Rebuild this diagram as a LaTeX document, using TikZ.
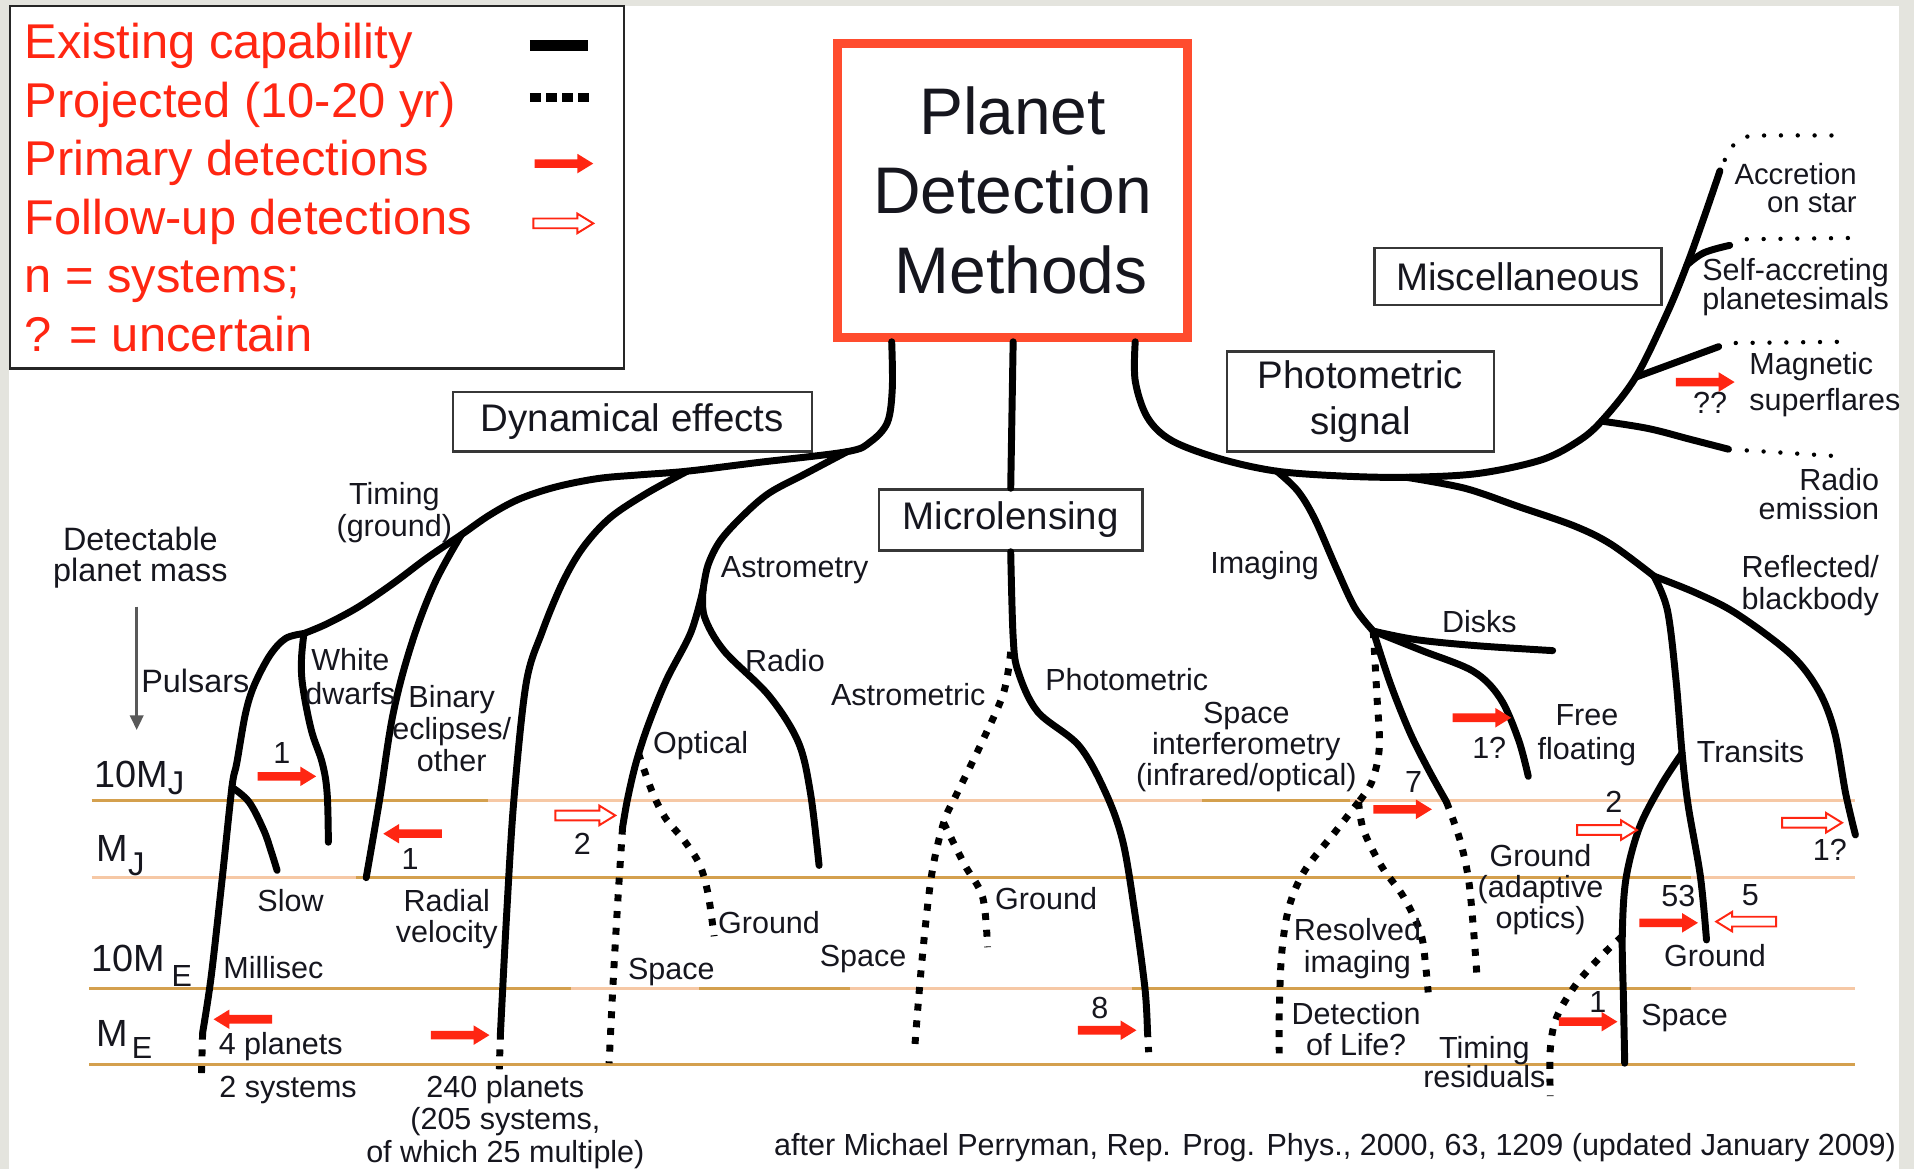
\documentclass[tikz,border=0pt]{standalone}
\usepackage{fontspec}
\setmainfont{Liberation Sans}
\usetikzlibrary{arrows.meta}
\definecolor{lvl}{RGB}{212,160,78}
\definecolor{peach}{RGB}{246,200,165}
\definecolor{legred}{RGB}{255,38,18}
\definecolor{boxred}{RGB}{255,76,46}
\definecolor{framegray}{RGB}{228,228,222}
\definecolor{boxgray}{RGB}{55,55,55}
\definecolor{txt}{RGB}{22,22,30}
\newcommand\FS[2]{\fontsize{#1}{#2}\selectfont}
\tikzset{
  tree/.style={line width=5.7pt,line cap=round,line join=round},
  proj/.style={line width=5.7pt,line cap=butt,dash pattern=on 5.7pt off 8pt},
  projthin/.style={line width=3.6pt,line cap=round,dash pattern=on 0pt off 13.8pt},
  lvline/.style={line width=2.3pt,draw=lvl},
  pkline/.style={line width=2.3pt,draw=peach},
  gbox/.style={draw=boxgray,line width=2pt,inner sep=0pt,fill=white,text=txt,font=\FS{31.5}{37}},
  lab/.style={font=\FS{25}{26},text=txt,inner sep=0pt,align=center},
  leg/.style={font=\FS{40}{48},text=legred,inner sep=0pt,anchor=base west},
  mass/.style={font=\FS{31}{31},text=txt,inner sep=0pt,anchor=base west},
  prim/.pic={\fill[legred] (0,-3.5) -- (35,-3.5) -- (35,-8) -- (48,0) -- (35,8) -- (35,3.5) -- (0,3.5) -- cycle;},
  follow/.pic={\draw[legred,line width=1.6pt,fill=white,line join=miter] (0,-4) -- (36,-4) -- (36,-8) -- (49,0) -- (36,8) -- (36,4) -- (0,4) -- cycle;},
}
\begin{document}
\begin{tikzpicture}[x=1pt,y=-1pt]
% background
\fill[framegray] (0,0) rectangle (1568,958);
\fill[white] (7,5) rectangle (1556,958);
\useasboundingbox (0,0) rectangle (1568,958);

% mass level lines
\draw[lvline] (75,656) -- (400,656);
\draw[pkline] (400,656) -- (985,656);
\draw[lvline] (985,656) -- (1106,656);
\draw[pkline] (1106,656) -- (1520,656);
\draw[pkline] (75,719) -- (292,719);
\draw[lvline] (292,719) -- (1385,719);
\draw[pkline] (1385,719) -- (1520,719);
\draw[lvline] (73,810) -- (468,810);
\draw[pkline] (468,810) -- (573,810);
\draw[lvline] (573,810) -- (696,810);
\draw[pkline] (696,810) -- (927,810);
\draw[lvline] (927,810) -- (1385,810);
\draw[pkline] (1385,810) -- (1520,810);
\draw[lvline] (73,872) -- (1520,872);

% legend
\node[draw=black!85,line width=2pt,minimum width=503pt,minimum height=297pt,inner sep=0pt] (legend) at (259.5,153.5) {};
\node[leg] (leg1) at (20,48) {Existing capability};
\node[leg] (leg2) at (20,96) {Projected (10-20 yr)};
\node[leg] (leg3) at (20,144) {Primary detections};
\node[leg] (leg4) at (20,192) {Follow-up detections};
\node[leg] (leg5) at (20,240) {n = systems;};
\node[leg] (leg6) at (20,288) {? = uncertain};
\coordinate (ls1) at (434,37); \coordinate (le1) at (482,37);
\coordinate (ls2) at (434,80); \coordinate (le2) at (484,80);
\draw[line width=9pt] (ls1) -- (le1);
\draw[line width=7pt,dash pattern=on 9pt off 4.3pt] (ls2) -- (le2);
\pic at (438,134) {prim};
\pic at (437,183) {follow};

% main boxes
\node[draw=boxred,line width=7pt,minimum width=287pt,minimum height=241pt,inner sep=0pt,
      font=\FS{54}{65},text=txt,align=center] (pdm) at (829.5,156) {Planet\\Detection\\\hspace*{14pt}Methods};
\node[gbox,minimum width=294pt,minimum height=49pt] (dyn) at (518,345.5) {Dynamical effects};
\node[gbox,minimum width=216pt,minimum height=50pt] (micro) at (828,426) {Microlensing};
\node[gbox,minimum width=219pt,minimum height=82pt,align=center] (phot) at (1114.5,329) {Photometric\\signal};
\node[gbox,minimum width=235pt,minimum height=47pt] (misc) at (1243.5,226.5) {Miscellaneous};

% ---------- coordinates ----------
\coordinate (tL) at (730.5,280);
\coordinate (tM) at (830,280);
\coordinate (tR) at (930,280);
\coordinate (dynJ) at (694,370);
\coordinate (rvJ) at (563,386);
\coordinate (timJ) at (378,438);
\coordinate (pulJ) at (249,519);
\coordinate (slowJ) at (190,645);
\coordinate (pulS) at (166,846);
\coordinate (pulE) at (165,881);
\coordinate (slowE) at (227,713);
\coordinate (wdE) at (269,690);
\coordinate (binE) at (300,719);
\coordinate (rvS) at (410,846);
\coordinate (rvE) at (409,876);
\coordinate (astJ) at (576,483);
\coordinate (optS) at (510,678);
\coordinate (optE) at (499,871);
\coordinate (grS) at (523,617);
\coordinate (grE) at (585,767);
\coordinate (radE) at (671,709);
\coordinate (mlS) at (940,844);
\coordinate (mlE) at (941,862);
\coordinate (amS) at (828,534);
\coordinate (amJ) at (773,674);
\coordinate (amE) at (749,863);
\coordinate (amG) at (809,776);
\coordinate (imgJ) at (1046,386);
\coordinate (trJ) at (1152,391);
\coordinate (radJ) at (1312,345);
\coordinate (magJ) at (1340,309);
\coordinate (selfJ) at (1382,217);
\coordinate (accS) at (1409,140);
\coordinate (accD) at (1413,131);
\coordinate (accE) at (1510,111);
\coordinate (selfS) at (1417,201);
\coordinate (selfD) at (1431,196);
\coordinate (selfE) at (1514,195);
\coordinate (magS) at (1408,284);
\coordinate (magD) at (1422,281);
\coordinate (magE) at (1510,280);
\coordinate (radS) at (1416,368);
\coordinate (radD) at (1431,369);
\coordinate (radEE) at (1510,374);
\coordinate (diskJ) at (1125,517);
\coordinate (diskE) at (1272,533);
\coordinate (ffE) at (1252,636);
\coordinate (imgS) at (1185,657);
\coordinate (aoE) at (1210,800);
\coordinate (riJ) at (1113,657);
\coordinate (riL) at (1048,863);
\coordinate (riR) at (1170,813);
\coordinate (refJ) at (1355,472);
\coordinate (refE) at (1520,684);
\coordinate (trsJ) at (1378,617);
\coordinate (grdE) at (1398,770);
\coordinate (tmJ) at (1329,767);
\coordinate (spE) at (1331,871);
\coordinate (trE) at (1270,898);

% ---------- left tree: dynamical effects ----------
\draw[tree] plot[smooth,tension=0.55] coordinates {(tL) (731,318) (727,346) (713,362) (dynJ) (620,379) (rvJ) (524,389) (490,392) (455,399) (425,409) (401,422) (timJ) (350,457) (322,478) (294,497) (268,511) (pulJ)};
\draw[tree] plot[smooth,tension=0.55] coordinates {(pulJ) (234,523) (221,537) (208,562) (201,585) (194,625) (slowJ) (182,720) (173,800) (pulS)};
\draw[proj] (pulS) -- (pulE);
\draw[tree] plot[smooth,tension=0.6] coordinates {(slowJ) (204,657) (216,680) (222,697) (slowE)};
\draw[tree] plot[smooth,tension=0.6] coordinates {(pulJ) (247,540) (248,562) (255,598) (264,625) (268,650) (wdE)};
\draw[tree] plot[smooth,tension=0.6] coordinates {(timJ) (356,478) (337,528) (322,585) (311,655) (binE)};
\draw[tree] plot[smooth,tension=0.55] coordinates {(rvJ) (530,404) (500,424) (478,448) (461,477) (444,518) (431,560) (421,655) (415,750) (rvS)};
\draw[proj] (rvS) -- (rvE);
\draw[tree] plot[smooth,tension=0.55] coordinates {(dynJ) (660,388) (630,404) (608,423) (590,443) (580,463) (astJ)};
\draw[tree] plot[smooth,tension=0.55] coordinates {(astJ) (566,518) (546,557) (531,594) (521,625) (514,655) (optS)};
\draw[proj] plot[smooth,tension=0.5] coordinates {(optS) (506,740) (502,810) (optE)};
\draw[proj] plot[smooth,tension=0.55] coordinates {(grS) (534,648) (545,670) (560,688) (573,708) (580,732) (grE)};
\draw[tree] plot[smooth,tension=0.55] coordinates {(astJ) (577,505) (593,533) (630,570) (654,608) (664,650) (radE)};

% ---------- microlensing ----------
\draw[tree] (tM) -- (micro.north);
\draw[tree] plot[smooth,tension=0.55] coordinates {(micro.south) (830,522) (834,550) (850,583) (884,611) (906,650) (920,690) (930,750) (938,810) (mlS)};
\draw[proj] (mlS) -- (mlE);
\draw[proj] plot[smooth,tension=0.55] coordinates {(amS) (822,568) (803,611) (783,652) (amJ) (763,718) (755,790) (amE)};
\draw[proj] plot[smooth,tension=0.55] coordinates {(amJ) (790,708) (805,735) (amG)};

% ---------- right tree: photometric signal ----------
\draw[tree] plot[smooth,tension=0.55] coordinates {(tR) (930,312) (940,342) (960,361) (1000,376) (imgJ) (1100,390) (trJ) (1210,388) (1262,377) (1292,362) (radJ) (magJ) (1366,256) (selfJ) (1396,178) (accS)};
\draw[projthin] plot[smooth,tension=0.6] coordinates {(accD) (1419,120) (1431,112) (1446,111) (accE)};
\draw[tree] plot[smooth,tension=0.6] coordinates {(selfJ) (1396,207) (selfS)};
\draw[projthin] (selfD) -- (selfE);
\draw[tree] (magJ) -- (magS);
\draw[projthin] (magD) -- (magE);
\draw[tree] plot[smooth,tension=0.6] coordinates {(radJ) (1350,351) (1385,360) (radS)};
\draw[projthin] (radD) -- (radEE);
\draw[tree] plot[smooth,tension=0.55] coordinates {(imgJ) (1063,402) (1077,425) (1095,466) (1110,498) (diskJ)};
\draw[tree] plot[smooth,tension=0.55] coordinates {(diskJ) (1160,524) (1210,529) (diskE)};
\draw[tree] plot[smooth,tension=0.55] coordinates {(diskJ) (1165,533) (1207,550) (1229,572) (1244,606) (ffE)};
\draw[tree] plot[smooth,tension=0.55] coordinates {(diskJ) (1139,560) (1155,600) (1170,630) (imgS)};
\draw[proj] plot[smooth,tension=0.55] coordinates {(imgS) (1196,688) (1203,720) (1207,760) (aoE)};
\draw[proj] plot[smooth,tension=0.55] coordinates {(diskJ) (1128,570) (1130,612) (1124,640) (riJ)};
\draw[proj] plot[smooth,tension=0.55] coordinates {(riJ) (1095,680) (1069,713) (1056,743) (1050,781) (1048,830) (riL)};
\draw[proj] plot[smooth,tension=0.55] coordinates {(riJ) (1117,680) (1132,710) (1150,735) (1164,765) (1168,792) (riR)};
\draw[tree] plot[smooth,tension=0.55] coordinates {(trJ) (1200,400) (1244,415) (1290,431) (1320,446) (refJ)};
\draw[tree] plot[smooth,tension=0.55] coordinates {(refJ) (1390,486) (1423,503) (1467,536) (1490,566) (1503,600) (1512,650) (refE)};
\draw[tree] plot[smooth,tension=0.55] coordinates {(refJ) (1366,500) (1373,557) (trsJ) (1383,660) (1393,718) (grdE)};
\draw[tree] plot[smooth,tension=0.55] coordinates {(trsJ) (1361,643) (1343,678) (1332,720) (tmJ) (1330,820) (spE)};
\draw[proj] plot[smooth,tension=0.55] coordinates {(tmJ) (1310,785) (1290,808) (1275,834) (1270,860) (trE)};

% ---------- detection arrows ----------
\pic at (211,636) {prim};
\pic[xscale=-1] at (362,683) {prim};
\pic[xscale=-1] at (223,835) {prim};
\pic at (353,848) {prim};
\pic at (883,844) {prim};
\pic at (1125,663) {prim};
\pic at (1190,588) {prim};
\pic at (1343,756) {prim};
\pic at (1277,837) {prim};
\pic at (1373,313) {prim};
\pic at (455,668) {follow};
\pic at (1292,680) {follow};
\pic at (1460,674) {follow};
\pic[xscale=-1] at (1455,755) {follow};

% ---------- axis ----------
\node[lab,font=\FS{26.5}{25}] (lDet) at (115,457) {Detectable\\planet mass};
\coordinate (gA) at (112,497);
\coordinate (gB) at (112,598);
\draw[draw=black!65,line width=2pt,-{Triangle[length=12pt,width=11pt]}] (gA) -- (gB);
\node[mass] (m10J) at (77,645) {10M\raisebox{-6pt}{\FS{27}{27}J}};
\node[mass] (mMJ) at (79,706) {M\raisebox{-11pt}{\FS{27}{27}J}};
\node[mass] (m10E) at (75,796) {10M\hspace{5pt}\raisebox{-12pt}{\FS{25}{25}E}};
\node[mass] (mME) at (79,857) {M\hspace{3pt}\raisebox{-10pt}{\FS{25}{25}E}};

% ---------- labels ----------
\node[lab] (lTiming) at (323,420) {Timing\\(ground)};
\node[lab,font=\FS{26.5}{26}] (lPuls) at (160,558) {Pulsars};
\node[lab,font=\FS{25}{28}] (lWD) at (287,554) {White\\dwarfs};
\node[lab] (lBin) at (370,597) {Binary\\eclipses/\\other};
\node[lab] (lSlow) at (238,738) {Slow};
\node[lab] (lRV) at (366,753) {Radial\\velocity};
\node[lab] (lMilli) at (224,793) {Millisec};
\node[lab] (l4p) at (230,857) {4 planets};
\node[lab] (l2s) at (236,893) {2 systems};
\node[lab,font=\FS{25}{26.5}] (l240) at (414,919) {240 planets\\(205 systems,\\of which 25 multiple)};
\node[lab] (lAstry) at (651,467) {Astrometry};
\node[lab] (lRadio) at (643,541) {Radio};
\node[lab] (lAstric) at (744,569) {Astrometric};
\node[lab] (lOpt) at (574,611) {Optical};
\node[lab] (lGr1) at (630,756) {Ground};
\node[lab] (lSp1) at (550,796) {Space};
\node[lab] (lSp2) at (707,786) {Space};
\node[lab] (lGr2) at (857,736) {Ground};
\node[lab] (lPhot) at (923,557) {Photometric};
\node[lab,font=\FS{25}{25.5}] (lSI) at (1021,612) {Space\\interferometry\\(infrared/optical)};
\node[lab] (lImg) at (1036,463) {Imaging};
\node[lab] (lDisks) at (1212,509) {Disks};
\node[lab,font=\FS{25}{28}] (lFree) at (1300,602) {Free\\floating};
\node[lab] (lRefl) at (1483,480) {Reflected/\\blackbody};
\node[lab] (lTrans) at (1434,616) {Transits};
\node[lab,align=right,font=\FS{25}{24}] (lRadEm) at (1490,405) {Radio\\emission};
\node[lab,align=right,font=\FS{24}{23}] (lAcc) at (1471,154) {Accretion\\on star};
\node[lab,font=\FS{25}{24}] (lSelf) at (1471,235) {Self-accreting\\planetesimals};
\node[lab,align=left,font=\FS{25}{30}] (lMag) at (1495,315) {Magnetic\\superflares};
\node[lab] (lQQ) at (1401,330) {??};
\node[lab] (lRes) at (1112,777) {Resolved\\imaging};
\node[lab] (lLife) at (1111,843) {Detection\\of Life?};
\node[lab,font=\FS{25}{21}] (lTimRes) at (1216,870) {Timing\\residuals};
\node[lab,font=\FS{25}{25.5}] (lAO) at (1262,729) {Ground\\(adaptive\\optics)};
\node[lab] (lGr3) at (1405,783) {Ground};
\node[lab] (lSp3) at (1380,834) {Space};
\node[lab,anchor=west] (lCite) at (634,940) {after Michael Perryman, Rep. Prog. Phys., 2000, 63, 1209 (updated January 2009)};

% numbers
\node[lab] (n1) at (231,617) {1};
\node[lab] (n2) at (336,704) {1};
\node[lab] (n3) at (477,691) {2};
\node[lab] (n4) at (901,826) {8};
\node[lab] (n5) at (1158,641) {7};
\node[lab] (n6) at (1220,613) {1?};
\node[lab] (n7) at (1322,657) {2};
\node[lab] (n8) at (1499,696) {1?};
\node[lab] (n9) at (1375,734) {53};
\node[lab] (n10) at (1434,733) {5};
\node[lab] (n11) at (1309,821) {1};
\end{tikzpicture}
\end{document}
